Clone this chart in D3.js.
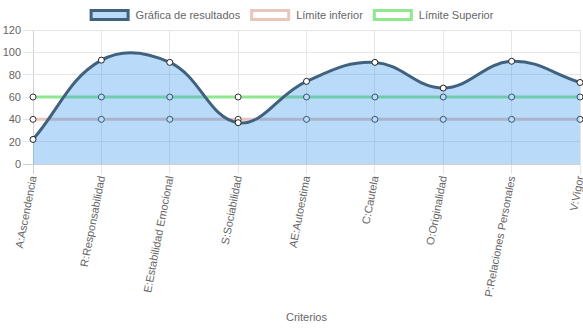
<!DOCTYPE html>
<html><head><meta charset="utf-8">
<script src="https://cdn.jsdelivr.net/npm/d3@7"></script>
<style>html,body{margin:0;padding:0;background:#fff;}svg{display:block;font-family:"Liberation Sans",Arial,sans-serif;}</style>
</head><body><svg id="c" width="583" height="328"></svg>
<script>
const categories = ["A:Ascendencia","R:Responsabilidad","E:Estabilidad Emocional","S:Sociabilidad","AE:Autoestima","C:Cautela","O:Originalidad","P:Relaciones Personales","V:Vigor"];
const resultados = [22, 93, 91, 37, 74, 91, 68, 92, 73];
const limiteInferior = [40, 40, 40, 40, 40, 40, 40, 40, 40];
const limiteSuperior = [60, 60, 60, 60, 60, 60, 60, 60, 60];
const yTicks = [0, 20, 40, 60, 80, 100, 120];
const legendLabels = ["Gráfica de resultados", "Límite inferior", "Límite Superior"];

const svg = d3.select("#c");
const W = 583, H = 328;
const L = 33, R = 580, T = 30, B = 164;
const x = d3.scalePoint().domain(categories).range([L, R]);
const y = d3.scaleLinear().domain([0, 120]).range([B, T]);
const font = 11, txt = "#666";

// grid
const g = svg.append("g");
g.selectAll(".vg").data(categories).enter().append("line")
  .attr("x1", d => x(d)).attr("x2", d => x(d)).attr("y1", T).attr("y2", B + 10)
  .attr("stroke", (d, i) => i === 0 ? "#d0d0d0" : "#e6e6e6").attr("stroke-width", 1).attr("shape-rendering", "crispEdges");
g.selectAll(".hg").data(yTicks).enter().append("line")
  .attr("x1", L - 10).attr("x2", R).attr("y1", d => y(d)).attr("y2", d => y(d))
  .attr("stroke", d => d === 0 ? "#cfcfcf" : "#e6e6e6").attr("stroke-width", 1).attr("shape-rendering", "crispEdges");

// y labels
g.selectAll(".yl").data(yTicks).enter().append("text")
  .attr("x", L - 12).attr("y", d => y(d)).attr("dy", "0.35em")
  .attr("text-anchor", "end").attr("font-size", font).attr("fill", txt).text(d => d);

// x labels
g.selectAll(".xl").data(categories).enter().append("text")
  .attr("transform", d => `translate(${x(d)},${B + 12}) rotate(-79)`)
  .attr("text-anchor", "end").attr("dy", "0.35em")
  .attr("font-size", font).attr("fill", txt).text(d => d);

svg.append("text").attr("x", (L + R) / 2).attr("y", 321).attr("text-anchor", "middle")
  .attr("font-size", font).attr("fill", txt).text("Criterios");

// Chart.js-like spline
function controlPoints(pts, t) {
  return pts.map((p, i) => {
    const prev = pts[i - 1] || p, next = pts[i + 1] || p;
    const d01 = Math.hypot(p[0] - prev[0], p[1] - prev[1]);
    const d12 = Math.hypot(next[0] - p[0], next[1] - p[1]);
    let s01 = d01 / (d01 + d12), s12 = d12 / (d01 + d12);
    if (!isFinite(s01)) s01 = 0; if (!isFinite(s12)) s12 = 0;
    const fa = t * s01, fb = t * s12;
    return {
      p: [p[0] - fa * (next[0] - prev[0]), p[1] - fa * (next[1] - prev[1])],
      n: [p[0] + fb * (next[0] - prev[0]), p[1] + fb * (next[1] - prev[1])]
    };
  });
}
function splinePath(vals, close) {
  const pts = vals.map((v, i) => [x(categories[i]), y(v)]);
  const cp = controlPoints(pts, 0.4);
  const path = d3.path();
  path.moveTo(pts[0][0], pts[0][1]);
  for (let i = 1; i < pts.length; i++) {
    path.bezierCurveTo(cp[i - 1].n[0], cp[i - 1].n[1], cp[i].p[0], cp[i].p[1], pts[i][0], pts[i][1]);
  }
  if (close) {
    path.lineTo(pts[pts.length - 1][0], y(0));
    path.lineTo(pts[0][0], y(0));
    path.closePath();
  }
  return path.toString();
}

function drawLimit(vals, color) {
  svg.append("path").attr("d", splinePath(vals, false)).attr("fill", "none")
    .attr("stroke", color).attr("stroke-width", 3);
  svg.append("g").selectAll("circle").data(vals).enter().append("circle")
    .attr("cx", (d, i) => x(categories[i])).attr("cy", d => y(d)).attr("r", 3)
    .attr("fill", "#fff").attr("stroke", "#333").attr("stroke-width", 1);
}
drawLimit(limiteSuperior, "#8fe88f");
drawLimit(limiteInferior, "#e8c6bb");

// results
svg.append("path").attr("d", splinePath(resultados, true))
  .attr("fill", "rgba(54,150,235,0.35)").attr("stroke", "none");
svg.append("path").attr("d", splinePath(resultados, false)).attr("fill", "none")
  .attr("stroke", "#40627f").attr("stroke-width", 3);
svg.append("g").selectAll("circle").data(resultados).enter().append("circle")
  .attr("cx", (d, i) => x(categories[i])).attr("cy", d => y(d)).attr("r", 3)
  .attr("fill", "#fff").attr("stroke", "#222").attr("stroke-width", 1);

// legend
const legendStyles = [
  {fill: "rgba(54,150,235,0.35)", stroke: "#40627f"},
  {fill: "#fff", stroke: "#e8c6bb"},
  {fill: "#fff", stroke: "#8fe88f"}
];
const lg = svg.append("g");
const items = legendLabels.map((t, i) => {
  const it = lg.append("g");
  it.append("rect").attr("x", 1.5).attr("y", 10.5).attr("width", 37).attr("height", 9)
    .attr("fill", legendStyles[i].fill).attr("stroke", legendStyles[i].stroke).attr("stroke-width", 3);
  const tx = it.append("text").attr("x", 46).attr("y", 15).attr("dy", "0.35em")
    .attr("font-size", font).attr("fill", txt).text(t);
  return {it, w: 46 + tx.node().getComputedTextLength()};
});
const total = d3.sum(items, d => d.w) + 10 * (items.length - 1);
let cx = (W - total) / 2;
items.forEach(d => { d.it.attr("transform", `translate(${cx},0)`); cx += d.w + 10; });
</script></body></html>
